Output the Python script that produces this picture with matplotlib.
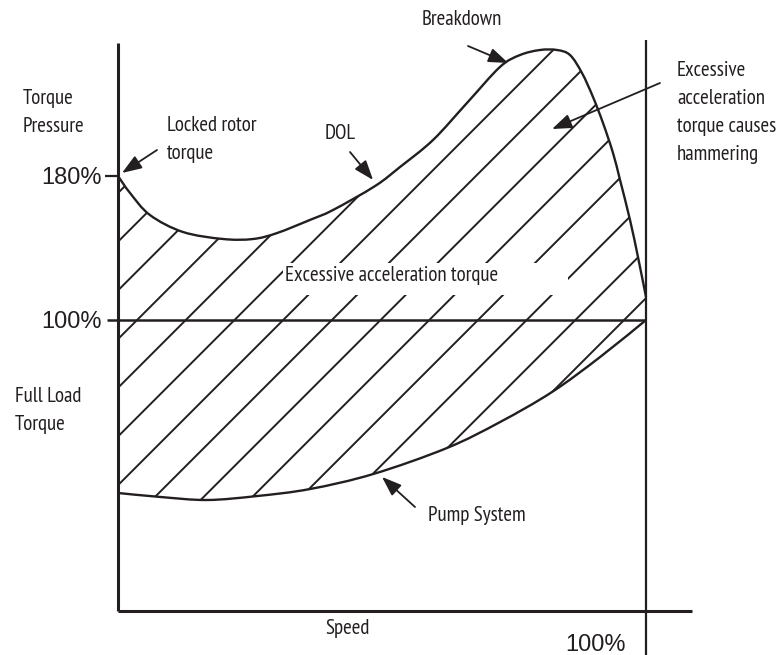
import numpy as np
import matplotlib
matplotlib.use("Agg")
import matplotlib.pyplot as plt
from matplotlib.path import Path
from matplotlib.patches import PathPatch, Rectangle

# curves: speed in % of rated, torque in % of full load
dol_speed = [0.0, 2.27, 6.06, 12.31, 19.89, 25.57, 30.11, 36.36, 40.72, 48.67,
             53.41, 59.66, 66.10, 72.35, 76.14, 79.92, 83.14, 85.61, 87.88,
             89.96, 91.86, 93.75, 95.08, 96.97, 98.48, 100.0]
dol_torque = [180.0, 170.6, 158.3, 148.9, 145.0, 145.0, 148.3, 155.6, 161.1, 174.4,
              185.0, 200.0, 220.6, 240.6, 247.2, 250.0, 250.0, 247.2, 237.2,
              223.9, 209.4, 192.8, 177.8, 155.6, 135.0, 112.8]

pump_speed = [0.0, 7.95, 16.86, 26.33, 36.36, 48.30, 62.31, 72.35, 82.20, 91.29, 100.0]
pump_torque = [3.9, 1.7, 0.0, 2.2, 6.1, 14.4, 28.9, 43.3, 60.0, 79.4, 100.0]

tick_torque = [180, 100]
tick_labels = ["180%", "100%"]

INK = "#231f20"
NARROW = ["PT Sans Narrow", "DejaVu Sans"]
PLAIN = ["Liberation Sans", "DejaVu Sans"]

W, H = 777, 655
fig = plt.figure(figsize=(W / 100, H / 100), dpi=100)
ax = fig.add_axes([0, 0, 1, 1])
ax.set_axis_off()
ax.set_xlim(-22.348, 124.81)
ax.set_ylim(-86.11, 277.78)


def fpos(px, py):
    # pixel position in the picture -> figure fraction
    return px / W, 1 - py / H


def smooth(xs, ys):
    # catmull-rom through the read points, as bezier segments
    p = np.column_stack([xs, ys])
    n = len(p)
    verts = [p[0]]
    codes = [Path.MOVETO]
    for i in range(n - 1):
        a = p[max(i - 1, 0)]
        b, c = p[i], p[i + 1]
        d = p[min(i + 2, n - 1)]
        verts += [b + (c - a) / 6, c - (d - b) / 6, c]
        codes += [Path.CURVE4] * 3
    return np.array(verts), codes


dol_v, dol_c = smooth(dol_speed, dol_torque)
pump_v, pump_c = smooth(pump_speed[::-1], pump_torque[::-1])

# frame lines
ax.plot([0, 0], [-61.67, 253.9], color=INK, lw=2.2, solid_capstyle="butt", zorder=3)
ax.plot([0, 108.7], [-61.67, -61.67], color=INK, lw=2.2, solid_capstyle="butt", zorder=3)
ax.plot([100, 100], [-90, 255.6], color=INK, lw=1.6, solid_capstyle="butt", zorder=3)
ax.plot([-2.1, 100], [100, 100], color=INK, lw=1.8, solid_capstyle="butt", zorder=3)
ax.plot([-2.5, 0], [180, 180], color=INK, lw=1.6, solid_capstyle="butt", zorder=3)

# curves
for v, c in [(dol_v, dol_c), (pump_v, pump_c)]:
    ax.add_patch(PathPatch(Path(v, c), facecolor="none", edgecolor=INK, lw=1.7, zorder=3))

# hatching clipped to the area between the two curves
area_v = np.vstack([dol_v, pump_v, dol_v[:1]])
area_c = dol_c + [Path.LINETO] + pump_c[1:] + [Path.CLOSEPOLY]
clip = PathPatch(Path(area_v, area_c), transform=ax.transData,
                 facecolor="none", edgecolor="none")
ax.add_patch(clip)
k = 5.28 / 1.8
xs = np.array([-5.0, 110.0])
for i in range(15):
    t0 = (618 - (311 + 48.7 * i)) / 1.8
    ln, = ax.plot(xs, t0 + k * xs, color=INK, lw=1.4, zorder=1)
    ln.set_clip_path(clip)

# white gap behind the middle label
x0, y1 = fpos(283, 295)
x1, y0 = fpos(568, 263)
fig.patches.append(Rectangle((x0, y1), x1 - x0, y0 - y1, transform=fig.transFigure,
                             facecolor="white", edgecolor="none", zorder=2))

# percent labels
for t, lab in zip(tick_torque, tick_labels):
    py = 320 - (t - 100) * 1.8
    fx, fy = fpos(102, py + 8)
    fig.text(fx, fy, lab, ha="right", va="baseline", fontsize=17, family=PLAIN, color=INK)
fx, fy = fpos(565, 651)
fig.text(fx, fy, "100%", ha="left", va="baseline", fontsize=17, family=PLAIN, color=INK)

# positions are (left, baseline of last line) in picture pixels
labels = [
    (23, 132, "Torque\nPressure"),
    (167, 159, "Locked rotor\ntorque"),
    (325, 139, "DOL"),
    (422, 25, "Breakdown"),
    (677, 160, "Excessive\nacceleration\ntorque causes\nhammering"),
    (285, 281, "Excessive acceleration torque"),
    (15, 430, "Full Load\nTorque"),
    (428, 521, "Pump System"),
    (325, 634, "Speed"),
]
for px, py, s in labels:
    fx, fy = fpos(px, py)
    fig.text(fx, fy, s, ha="left", va="baseline", fontsize=15, family=NARROW,
             color=INK, linespacing=1.59, zorder=5)

# arrows: head in data units, tail in picture pixels
arrows = [
    ((0.76, 181.7), (157, 150)),
    ((48.3, 177.8), (350, 152)),
    ((73.9, 242.8), (468, 46)),
    ((82.2, 206.1), (660, 83)),
    ((50.0, 12.8), (415, 507)),
]
for head, tail in arrows:
    ax.annotate("", xy=head, xycoords="data", xytext=fpos(*tail),
                textcoords="figure fraction",
                arrowprops=dict(arrowstyle="-|>,head_length=0.6,head_width=0.22",
                                color=INK, lw=1.3, mutation_scale=20,
                                shrinkA=0, shrinkB=0))

fig.savefig("out.png", dpi=100)
